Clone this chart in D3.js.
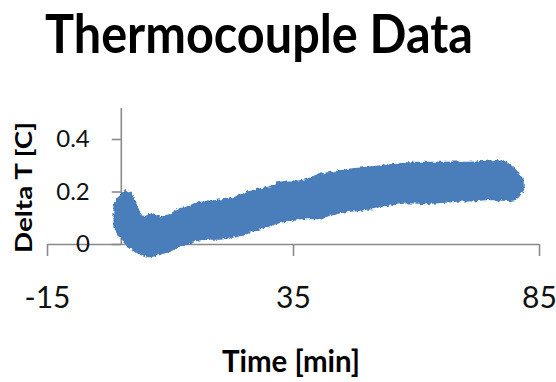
<!DOCTYPE html>
<html>
<head>
<meta charset="utf-8">
<script src="https://cdn.jsdelivr.net/npm/d3@7"></script>
<style>
  body { margin: 0; background: #fff; }
  svg { display: block; font-family: Lato, "Open Sans", sans-serif; }
</style>
</head>
<body>
<script>
// thermocouple band: time [min], top and bottom edge of the cloud [C]
var times = [-1.2, -0.6, 0, 0.8, 1.8, 2.8, 3.9, 4.9, 5.9, 8, 10, 12, 14, 16, 18, 20, 22, 24, 26, 28, 30,
  32, 34, 36, 38, 40, 42, 44, 46, 48, 50, 52, 54, 56, 58, 60, 62, 64, 66, 68, 70, 72, 74, 76, 78, 79.5, 80.6, 81.6];
var upper = [0.15, 0.175, 0.18, 0.20, 0.19, 0.16, 0.11, 0.10, 0.11, 0.10, 0.11, 0.13, 0.14, 0.155, 0.157, 0.164, 0.167, 0.18, 0.194, 0.206, 0.213,
  0.23, 0.236, 0.236, 0.244, 0.258, 0.268, 0.273, 0.28, 0.285, 0.289, 0.292, 0.298, 0.30, 0.306, 0.308, 0.308, 0.308, 0.308, 0.309, 0.308, 0.309, 0.311, 0.314, 0.31, 0.29, 0.27, 0.245];
var lower = [0.065, 0.045, 0.027, 0.01, -0.01, -0.02, -0.035, -0.04, -0.045, -0.035, -0.023, -0.004, 0.005, 0.02, 0.022, 0.022, 0.027, 0.034, 0.046, 0.06, 0.072,
  0.084, 0.091, 0.099, 0.10, 0.10, 0.11, 0.12, 0.128, 0.13, 0.136, 0.14, 0.15, 0.155, 0.16, 0.16, 0.157, 0.16, 0.163, 0.166, 0.168, 0.168, 0.172, 0.172, 0.17, 0.17, 0.18, 0.205];

var xTicks = [-15, 35, 85];
var yTicks = [0, 0.2, 0.4];
var yTickLabels = ["0", "0.2", "0.4"];

var width = 556, height = 382;

var svg = d3.select("body").append("svg")
    .attr("width", width)
    .attr("height", height);

// jagged edge like a cloud of markers
var defs = svg.append("defs");
var filt = defs.append("filter").attr("id", "rough")
    .attr("x", "-5%").attr("y", "-20%").attr("width", "110%").attr("height", "140%");
filt.append("feTurbulence").attr("type", "fractalNoise").attr("baseFrequency", 0.3)
    .attr("numOctaves", 2).attr("seed", 3).attr("result", "noise");
filt.append("feDisplacementMap").attr("in", "SourceGraphic").attr("in2", "noise")
    .attr("scale", 4.5).attr("xChannelSelector", "R").attr("yChannelSelector", "G")
    .attr("result", "disp");
filt.append("feGaussianBlur").attr("in", "disp").attr("stdDeviation", 0.5);

var x = d3.scaleLinear().domain([-15, 85]).range([47, 539]);
var y = d3.scaleLinear().domain([0, 0.52]).range([244, 107.5]);

// x axis sits at y = 0
var xAxis = svg.append("g")
    .attr("transform", "translate(0," + y(0) + ")")
    .call(d3.axisBottom(x).tickValues(xTicks).tickSize(12).tickSizeOuter(0).tickPadding(31)
      .tickFormat(function(d) { return d; }));

var yAxis = svg.append("g")
    .attr("transform", "translate(" + x(0) + ",0)")
    .call(d3.axisLeft(y).tickValues(yTicks).tickSize(9).tickSizeOuter(0).tickPadding(22)
      .tickFormat(function(d, i) { return yTickLabels[i]; }));

svg.selectAll(".domain, .tick line")
    .attr("stroke", "#8a8a8a")
    .attr("stroke-width", 1.6);

xAxis.selectAll("text")
    .attr("fill", "#111")
    .style("font-size", "30px")
    .style("font-family", "Lato, 'Open Sans', sans-serif");

yAxis.selectAll("text")
    .attr("fill", "#111")
    .style("font-size", "24px")
    .style("font-family", "Lato, 'Open Sans', sans-serif");

// the data cloud
var band = d3.area()
    .x(function(d, i) { return x(times[i]); })
    .y0(function(d, i) { return y(lower[i]); })
    .y1(function(d) { return y(d); })
    .curve(d3.curveMonotoneX);

svg.append("path")
    .datum(upper)
    .attr("d", band)
    .attr("fill", "#4a7ebb")
    .attr("stroke", "#4a7ebb")
    .attr("stroke-width", 3)
    .attr("stroke-linejoin", "round")
    .attr("filter", "url(#rough)");

// titles
svg.append("text")
    .attr("x", 259)
    .attr("y", 53)
    .attr("text-anchor", "middle")
    .attr("textLength", 428)
    .attr("lengthAdjust", "spacingAndGlyphs")
    .style("font-size", "53px")
    .style("font-weight", "bold")
    .attr("fill", "#000")
    .text("Thermocouple Data");

svg.append("text")
    .attr("x", 291)
    .attr("y", 372)
    .attr("text-anchor", "middle")
    .attr("textLength", 138)
    .attr("lengthAdjust", "spacingAndGlyphs")
    .style("font-size", "30px")
    .style("font-weight", "bold")
    .attr("fill", "#000")
    .text("Time [min]");

svg.append("text")
    .attr("transform", "translate(32,187.5) rotate(-90)")
    .attr("text-anchor", "middle")
    .attr("textLength", 131)
    .attr("lengthAdjust", "spacingAndGlyphs")
    .style("font-size", "23.5px")
    .style("font-weight", "bold")
    .attr("fill", "#000")
    .text("Delta T [C]");
</script>
</body>
</html>
